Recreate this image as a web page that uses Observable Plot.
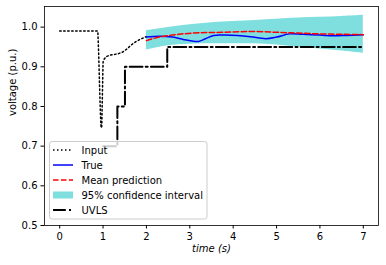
<!DOCTYPE html>
<html>
<head>
<meta charset="utf-8">
<script src="https://cdn.jsdelivr.net/npm/d3@7"></script>
<script src="https://cdn.jsdelivr.net/npm/@observablehq/plot@0.6"></script>
<style>
  html, body { margin: 0; padding: 0; background: #fff; }
  #wrap { position: relative; width: 386px; height: 265px; font-family: "DejaVu Sans", sans-serif; }
  #legend { position: absolute; left: 0; top: 0; pointer-events: none; }
</style>
</head>
<body>
<div id="wrap"></div>
<script>
// ---- data ----
const inputT = [0, 0.88, 0.9, 0.92, 0.94, 0.955, 0.97, 0.985, 1.0, 1.03, 1.08, 1.15, 1.25, 1.35, 1.45, 1.55, 1.65, 1.75, 1.85, 1.95, 2.0];
const inputV = [0.99, 0.99, 0.93, 0.85, 0.78, 0.746, 0.75, 0.83, 0.912, 0.92, 0.926, 0.929, 0.931, 0.933, 0.937, 0.945, 0.955, 0.963, 0.969, 0.974, 0.976];

const trueT = [2.0, 2.3, 2.6, 2.85, 3.05, 3.2, 3.35, 3.55, 3.8, 4.1, 4.4, 4.75, 5.0, 5.3, 5.6, 6.0, 6.3, 6.6, 7.0];
const trueV = [0.975, 0.977, 0.975, 0.969, 0.965, 0.964, 0.970, 0.979, 0.980, 0.979, 0.976, 0.971, 0.975, 0.983, 0.982, 0.980, 0.978, 0.979, 0.981];

const meanT = [2.0, 2.3, 2.75, 3.25, 3.75, 4.4, 5.0, 5.5, 6.0, 6.5, 7.0];
const meanV = [0.966, 0.975, 0.982, 0.986, 0.987, 0.989, 0.987, 0.985, 0.983, 0.982, 0.981];

const ciT  = [2.0, 2.5, 3.0, 3.5, 4.0, 4.5, 5.0, 5.5, 6.0, 6.5, 7.0];
const ciLo = [0.942, 0.953, 0.957, 0.958, 0.958, 0.958, 0.955, 0.950, 0.945, 0.940, 0.934];
const ciHi = [0.991, 0.999, 1.006, 1.011, 1.014, 1.017, 1.020, 1.023, 1.025, 1.027, 1.030];

const uvlsT = [1.0, 1.33, 1.505, 2.48, 7.0];
const uvlsV = [0.70, 0.80, 0.90, 0.95, 0.95];

const xTicks = [0, 1, 2, 3, 4, 5, 6, 7];
const yTicks = [0.5, 0.6, 0.7, 0.8, 0.9, 1.0];

const legendLabels = ["Input", "True", "Mean prediction", "95% confidence interval", "UVLS"];

// ---- tables ----
const input = inputT.map((t, i) => ({t, v: inputV[i]}));
const truth = trueT.map((t, i) => ({t, v: trueV[i]}));
const mean = meanT.map((t, i) => ({t, v: meanV[i]}));
const ci = ciT.map((t, i) => ({t, lo: ciLo[i], hi: ciHi[i]}));
const uvls = uvlsT.map((t, i) => ({t, v: uvlsV[i]}));

const FONT = "DejaVu Sans, sans-serif";

const chart = Plot.plot({
  width: 386,
  height: 265,
  marginLeft: 44,
  marginRight: 8,
  marginTop: 6,
  marginBottom: 40,
  style: {fontFamily: FONT, fontSize: "10px", background: "#fff", color: "#000"},
  x: {domain: [-0.35, 7.35]},
  y: {domain: [0.5, 1.052]},
  marks: [
    Plot.areaY(ci, {x: "t", y1: "lo", y2: "hi", fill: "#00bfbf", fillOpacity: 0.5, curve: "catmull-rom"}),
    Plot.line(input, {x: "t", y: "v", stroke: "#000", strokeWidth: 1.5, strokeDasharray: "1.5,2.5", curve: "linear"}),
    Plot.line(truth, {x: "t", y: "v", stroke: "#0000ff", strokeWidth: 1.5, curve: "catmull-rom"}),
    Plot.line(mean, {x: "t", y: "v", stroke: "#ff0000", strokeWidth: 1.5, strokeDasharray: "5.55,2.4", curve: "catmull-rom"}),
    Plot.line(uvls, {x: "t", y: "v", stroke: "#000", strokeWidth: 2, strokeDasharray: "12.8,3.2,2,3.2", curve: "step-after"}),
    Plot.frame({stroke: "#000", strokeWidth: 0.8}),
    Plot.axisX({ticks: xTicks, tickSize: 3.5, tickPadding: 3.5, label: null, fontSize: 10, tickFormat: d3.format("d")}),
    Plot.axisY({ticks: yTicks, tickSize: 3.5, tickPadding: 3.5, label: null, fontSize: 10, tickFormat: d3.format(".1f")}),
    Plot.text(["voltage (p.u.)"], {frameAnchor: "left", dx: -32, rotate: -90, fontSize: 10, fill: "#000"}),
    Plot.text(["time (s)"], {frameAnchor: "bottom", dy: 26, fontSize: 10, fontStyle: "italic", fill: "#000"})
  ]
});

const wrap = document.getElementById("wrap");
wrap.appendChild(chart);

// ---- legend overlay ----
const lg = d3.select(wrap).append("svg")
  .attr("id", "legend")
  .attr("width", 386).attr("height", 265)
  .style("font-family", FONT).style("font-size", "10px");

lg.append("rect")
  .attr("x", 49.5).attr("y", 141.5).attr("width", 157.5).attr("height", 77.5)
  .attr("rx", 2.5).attr("ry", 2.5)
  .attr("fill", "rgba(255,255,255,0.8)").attr("stroke", "#cccccc").attr("stroke-width", 1);

const handles = [
  {type: "line", stroke: "#000", width: 1.5, dash: "1.5,2.5"},
  {type: "line", stroke: "#0000ff", width: 1.5, dash: null},
  {type: "line", stroke: "#ff0000", width: 1.5, dash: "5.55,2.4"},
  {type: "rect", fill: "#7fdfdf"},
  {type: "line", stroke: "#000", width: 2, dash: "12.8,3.2,2,3.2"}
];

legendLabels.forEach((label, i) => {
  const cy = 150 + i * 15;
  const h = handles[i];
  if (h.type === "line") {
    const ln = lg.append("line")
      .attr("x1", 53).attr("x2", 73).attr("y1", cy).attr("y2", cy)
      .attr("stroke", h.stroke).attr("stroke-width", h.width);
    if (h.dash) ln.attr("stroke-dasharray", h.dash);
  } else {
    lg.append("rect").attr("x", 53).attr("y", cy - 3.5).attr("width", 20).attr("height", 7).attr("fill", h.fill);
  }
  lg.append("text")
    .attr("x", 81.5).attr("y", cy).attr("dy", "0.35em")
    .attr("fill", "#000")
    .text(label);
});
</script>
</body>
</html>
